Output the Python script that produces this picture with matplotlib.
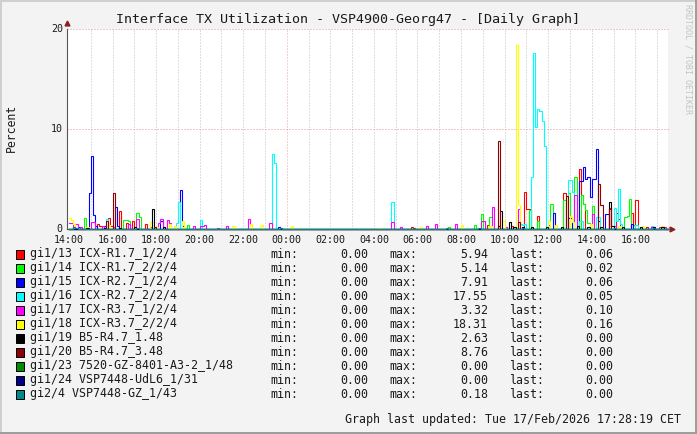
import matplotlib
matplotlib.use('Agg')
import matplotlib.pyplot as plt
from matplotlib.patches import Rectangle
import numpy as np

W, H = 697, 434

gi1_13_steps = [3, 16, 17, 21, 22, 23, 28, 31, 35, 42, 188, 189, 230, 236, 244, 251, 252, 253, 258, 272, 281, 282, 283, 298, 301, 302, 310, 312, 318]
gi1_13_vals = [0.2, 0.5, 0.3, 0.5, 1.1, 0.3, 1.8, 0.6, 0.8, 0.5, 0.2, 0.1, 0.4, 0.3, 0.3, 3.65, 2.0, 2.0, 1.3, 3.6, 5.94, 3.4, 2.5, 2.1, 1.6, 1.0, 1.6, 2.9, 0.2]
gi1_14_steps = [8, 30, 31, 32, 37, 38, 65, 209, 223, 227, 232, 253, 258, 265, 272, 275, 278, 282, 283, 284, 285, 288, 306, 307, 308, 311]
gi1_14_vals = [1.1, 0.9, 0.9, 0.8, 1.6, 1.2, 0.4, 0.2, 0.4, 1.5, 1.2, 1.9, 0.8, 2.5, 2.9, 3.6, 5.14, 3.4, 2.5, 1.9, 0.6, 2.3, 1.2, 1.3, 3.0, 0.4]
gi1_15_steps = [5, 11, 12, 13, 14, 19, 25, 26, 51, 52, 61, 62, 63, 115, 116, 267, 275, 276, 281, 282, 283, 284, 285, 286, 287, 288, 289, 290, 291, 292, 295, 296, 309, 310, 322]
gi1_15_vals = [0.2, 3.6, 7.3, 1.4, 0.3, 0.3, 2.2, 0.3, 0.8, 0.2, 3.9, 3.1, 0.3, 0.2, 0.1, 1.6, 1.1, 1.1, 4.8, 4.8, 6.2, 5.0, 5.2, 5.2, 3.2, 5.0, 5.0, 5.6, 7.91, 0.8, 1.5, 1.5, 2.3, 0.5, 0.2]
gi1_16_steps = [20, 59, 60, 72, 112, 113, 178, 248, 249, 250, 251, 255, 256, 257, 258, 259, 260, 261, 275, 276, 277, 281, 282, 291, 292, 300, 301, 303, 304, 312, 320]
gi1_16_vals = [1.0, 0.6, 2.7, 0.9, 7.5, 6.6, 2.63, 0.5, 0.5, 0.4, 0.5, 5.2, 17.55, 10.2, 12.0, 11.8, 10.8, 8.3, 4.9, 4.9, 3.7, 0.8, 0.8, 1.2, 1.2, 2.1, 0.8, 4.0, 0.5, 0.4, 0.3]
gi1_17_steps = [0, 1, 4, 6, 12, 13, 18, 24, 32, 37, 44, 49, 50, 54, 55, 57, 68, 72, 73, 74, 82, 86, 87, 99, 110, 177, 182, 197, 201, 202, 212, 227, 228, 233, 240, 247, 264, 279, 288, 300, 320, 325, 328]
gi1_17_vals = [0.6, 0.6, 0.5, 0.2, 0.7, 0.7, 0.3, 0.2, 0.5, 1.0, 0.2, 0.6, 1.0, 0.9, 0.6, 0.3, 0.3, 0.3, 0.3, 0.4, 0.1, 0.3, 0.3, 1.0, 0.6, 0.7, 0.2, 0.3, 0.5, 0.5, 0.5, 0.8, 0.8, 2.2, 0.2, 2.0, 0.4, 3.32, 1.5, 0.3, 0.2, 0.2, 0.2]
gi1_18_steps = [0, 1, 2, 3, 10, 21, 44, 48, 55, 58, 62, 90, 100, 105, 122, 171, 193, 216, 232, 239, 246, 247, 264, 268, 276, 277, 287, 303, 316, 326, 327]
gi1_18_vals = [1.1, 0.9, 0.9, 0.5, 0.2, 0.4, 0.7, 0.2, 0.5, 0.3, 0.8, 0.3, 0.5, 0.4, 0.3, 0.1, 0.2, 0.4, 0.3, 0.8, 18.31, 2.4, 0.8, 0.4, 1.3, 0.7, 0.5, 0.3, 0.3, 1.0, 0.3]
gi1_19_steps = [2, 10, 19, 28, 36, 46, 52, 236, 237, 242, 245, 250, 255, 263, 271, 280, 286, 293, 298, 299, 305, 315, 322, 327]
gi1_19_vals = [0.2, 0.1, 0.1, 0.1, 0.2, 2.0, 0.2, 0.3, 1.8, 0.7, 0.2, 0.2, 0.2, 0.2, 0.2, 0.3, 0.2, 0.2, 2.63, 0.3, 0.2, 0.2, 0.2, 0.2]
gi1_20_steps = [20, 24, 47, 236, 247, 273, 292, 293, 298]
gi1_20_vals = [0.8, 3.6, 0.2, 8.76, 0.7, 3.3, 4.5, 2.4, 2.0]
gi1_23_steps = [65]
gi1_23_vals = [0.0]
gi1_24_steps = [65]
gi1_24_vals = [0.0]
gi2_4_steps = [2, 4, 37, 116, 208, 225, 250, 300, 322]
gi2_4_vals = [0.18, 0.1, 0.1, 0.05, 0.05, 0.05, 0.1, 0.1, 0.05]

n_bins = 275  # one drawn step is 6 minutes

names = ['gi1/13 ICX-R1.7_1/2/4', 'gi1/14 ICX-R1.7_2/2/4', 'gi1/15 ICX-R2.7_1/2/4',
         'gi1/16 ICX-R2.7_2/2/4', 'gi1/17 ICX-R3.7_1/2/4', 'gi1/18 ICX-R3.7_2/2/4',
         'gi1/19 B5-R4.7_1.48', 'gi1/20 B5-R4.7_3.48', 'gi1/23 7520-GZ-8401-A3-2_1/48',
         'gi1/24 VSP7448-UdL6_1/31', 'gi2/4 VSP7448-GZ_1/43']
mins = [0.00] * 11
maxs = [5.94, 5.14, 7.91, 17.55, 3.32, 18.31, 2.63, 8.76, 0.00, 0.00, 0.18]
lasts = [0.06, 0.02, 0.06, 0.05, 0.10, 0.16, 0.00, 0.00, 0.00, 0.00, 0.00]
colors = ['#ff0000', '#00ff00', '#0000ff', '#00ffff', '#ff00ff', '#ffff00',
          '#000000', '#8b0000', '#008b00', '#00008b', '#008b8b']
series = [(gi1_13_steps, gi1_13_vals), (gi1_14_steps, gi1_14_vals), (gi1_15_steps, gi1_15_vals),
          (gi1_16_steps, gi1_16_vals), (gi1_17_steps, gi1_17_vals), (gi1_18_steps, gi1_18_vals),
          (gi1_19_steps, gi1_19_vals), (gi1_20_steps, gi1_20_vals), (gi1_23_steps, gi1_23_vals),
          (gi1_24_steps, gi1_24_vals), (gi2_4_steps, gi2_4_vals)]

hour_ticks = np.arange(1, 28)
label_ticks = np.arange(0, 27, 2)
tick_labels = ['14:00', '16:00', '18:00', '20:00', '22:00', '00:00', '02:00',
               '04:00', '06:00', '08:00', '10:00', '12:00', '14:00', '16:00']

plt.rcParams['font.family'] = 'DejaVu Sans Mono'

fig = plt.figure(figsize=(W / 100, H / 100), dpi=100, facecolor='#f3f3f3')
ax = fig.add_axes([67 / W, 1 - 228.5 / H, (668 - 67) / W, 200 / H])


def txt(x, y, s, size=8.4, **kw):
    # positions in reference pixels, y from the top
    fig.text(x / W, 1 - y / H, s, fontsize=size, va='center', color=kw.pop('color', '#1a1a1a'), **kw)


# frame shading
fig.add_artist(Rectangle((0, 0), 2 / W, 1, transform=fig.transFigure, color='#cfcfcf', lw=0))
fig.add_artist(Rectangle((0, 1 - 2 / H), 1, 2 / H, transform=fig.transFigure, color='#cfcfcf', lw=0))
fig.add_artist(Rectangle((1 - 2 / W, 0), 2 / W, 1, transform=fig.transFigure, color='#9e9e9e', lw=0))
fig.add_artist(Rectangle((0, 0), 1, 2 / H, transform=fig.transFigure, color='#9e9e9e', lw=0))

ax.set_xlim(-0.09, 27.5)
ax.set_ylim(0, 20)
ax.set_facecolor('white')

# grid
for h in hour_ticks:
    if h == 10:
        ax.axvline(h, color='#f0a0a0', lw=0.72, ls=(0, (1, 2)), zorder=1)
    else:
        ax.axvline(h, color='#c0c0c0', lw=0.72, ls=(0, (1, 2)), zorder=1)
for v in [10, 20]:
    ax.axhline(v, color='#e09090', lw=0.72, ls=(0, (1, 2)), zorder=1, clip_on=False)

# traffic lines
t = np.arange(n_bins + 1) / 10
for (steps, vals), c in zip(series, colors):
    y = np.zeros(n_bins + 1)
    y[np.round(np.array(steps) * 5 / 6).astype(int)] = vals
    ax.step(t, y, where='post', color=c, lw=0.8, zorder=3, clip_on=False,
            solid_joinstyle='miter')

for side in ['top', 'right']:
    ax.spines[side].set_visible(False)
ax.spines['left'].set_color('#555555')
ax.spines['bottom'].set_color('#555555')
ax.spines['left'].set_linewidth(0.8)
ax.spines['bottom'].set_linewidth(0.8)
ax.plot(1.007, 0, marker='>', color='#8b2020', ms=3.5, transform=ax.transAxes, clip_on=False, zorder=5)
ax.plot(0, 1.03, marker='^', color='#8b2020', ms=3.5, transform=ax.transAxes, clip_on=False, zorder=5)

ax.set_xticks(label_ticks)
ax.set_xticklabels(tick_labels, fontsize=7.2, color='#1a1a1a')
ax.set_yticks([0, 10, 20])
ax.set_yticklabels(['0', '10', '20'], fontsize=7.2, color='#1a1a1a')
ax.tick_params(axis='both', length=0, pad=3)
ax.tick_params(axis='x', pad=5)

txt(348, 19, 'Interface TX Utilization - VSP4900-Georg47 - [Daily Graph]', size=9.6, ha='center')
fig.text(11 / W, 1 - 127.5 / H, 'Percent', fontsize=8.3, rotation=90, va='center', ha='center', color='#1a1a1a')
fig.text(688 / W, 1 - 59 / H, 'RRDTOOL / TOBI OETIKER', fontsize=6.0, rotation=270, va='center', ha='center',
         color='#c4c4c4')

# legend rows
for i, name in enumerate(names):
    y = 254 + 14 * i
    fig.add_artist(Rectangle((15.5 / W, 1 - (y + 4.5) / H), 8.5 / W, 8.5 / H, transform=fig.transFigure,
                             facecolor=colors[i], edgecolor='black', lw=0.72))
    txt(30, y, name)
    txt(270, y, 'min:')
    txt(368, y, f'{mins[i]:.2f}', ha='right')
    txt(389, y, 'max:')
    txt(488, y, f'{maxs[i]:.2f}', ha='right')
    txt(509, y, 'last:')
    txt(613, y, f'{lasts[i]:.2f}', ha='right')

txt(345, 420, 'Graph last updated: Tue 17/Feb/2026 17:28:19 CET')

fig.savefig('out.png', dpi=100, facecolor=fig.get_facecolor())
